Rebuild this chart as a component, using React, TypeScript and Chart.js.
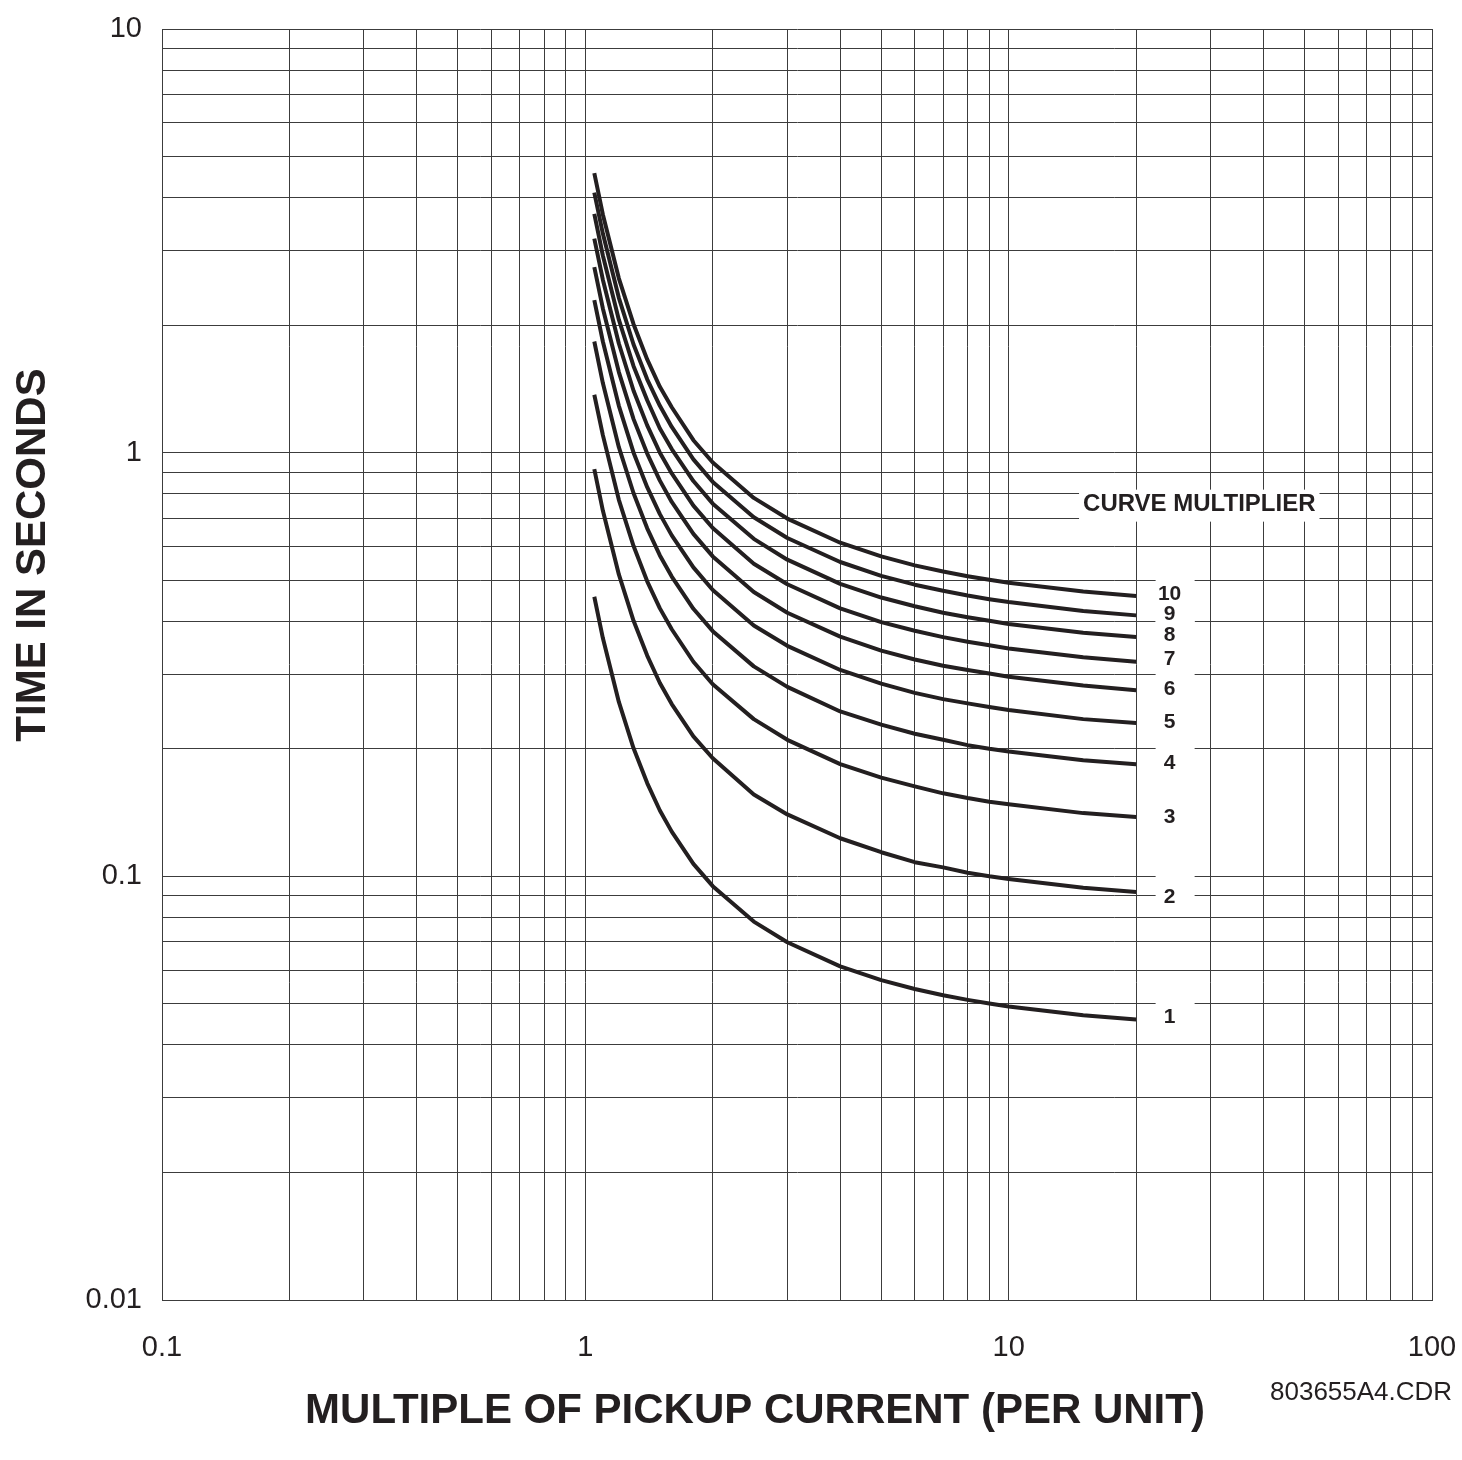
import React, { useEffect, useRef } from "react";
import { Chart, registerables } from "chart.js";

Chart.register(...registerables);

// Multiple of pickup current (per unit) at which each curve is sampled
const CURRENT_PU = [1.05, 1.1, 1.2, 1.3, 1.4, 1.5, 1.6, 1.8, 2, 2.5, 3, 4, 5, 6, 7, 8, 9, 10, 15, 20];

// Time in seconds for each curve multiplier
const CURVE_1 = [0.457, 0.365, 0.258, 0.2005, 0.166, 0.143, 0.1275, 0.107, 0.0948, 0.0782, 0.0699, 0.0613, 0.0569, 0.0542, 0.0524, 0.0511, 0.0501, 0.0493, 0.047, 0.0459];
const CURVE_2 = [0.914, 0.73, 0.516, 0.401, 0.332, 0.286, 0.255, 0.214, 0.19, 0.156, 0.14, 0.123, 0.114, 0.108, 0.105, 0.102, 0.1, 0.0986, 0.094, 0.0918];
const CURVE_3 = [1.37, 1.1, 0.774, 0.602, 0.497, 0.429, 0.383, 0.321, 0.284, 0.235, 0.21, 0.184, 0.171, 0.163, 0.157, 0.153, 0.15, 0.148, 0.141, 0.138];
const CURVE_4 = [1.83, 1.46, 1.03, 0.802, 0.663, 0.572, 0.51, 0.428, 0.379, 0.313, 0.28, 0.245, 0.228, 0.217, 0.21, 0.204, 0.2, 0.197, 0.188, 0.184];
const CURVE_5 = [2.29, 1.83, 1.29, 1.0, 0.829, 0.716, 0.638, 0.536, 0.474, 0.391, 0.35, 0.307, 0.285, 0.271, 0.262, 0.256, 0.251, 0.247, 0.235, 0.23];
const CURVE_6 = [2.74, 2.19, 1.55, 1.2, 0.995, 0.859, 0.765, 0.643, 0.569, 0.469, 0.419, 0.368, 0.341, 0.325, 0.314, 0.307, 0.301, 0.296, 0.282, 0.275];
const CURVE_7 = [3.2, 2.56, 1.81, 1.4, 1.16, 1.0, 0.893, 0.75, 0.664, 0.547, 0.489, 0.429, 0.398, 0.38, 0.367, 0.358, 0.351, 0.345, 0.329, 0.321];
const CURVE_8 = [3.66, 2.92, 2.06, 1.6, 1.33, 1.14, 1.02, 0.857, 0.758, 0.626, 0.559, 0.49, 0.455, 0.434, 0.419, 0.409, 0.401, 0.394, 0.376, 0.367];
const CURVE_9 = [4.11, 3.29, 2.32, 1.8, 1.49, 1.29, 1.15, 0.964, 0.853, 0.704, 0.629, 0.552, 0.512, 0.488, 0.472, 0.46, 0.451, 0.444, 0.423, 0.413];
const CURVE_10 = [4.57, 3.65, 2.58, 2.01, 1.66, 1.43, 1.28, 1.07, 0.948, 0.782, 0.699, 0.613, 0.569, 0.542, 0.524, 0.511, 0.501, 0.493, 0.47, 0.459];

const CURVES = [CURVE_1, CURVE_2, CURVE_3, CURVE_4, CURVE_5, CURVE_6, CURVE_7, CURVE_8, CURVE_9, CURVE_10];
const CURVE_NAMES = ["1", "2", "3", "4", "5", "6", "7", "8", "9", "10"];

// Curve label positions (time values) and their common current position
const LABEL_TIME = [0.0467, 0.0899, 0.139, 0.186, 0.232, 0.278, 0.327, 0.372, 0.418, 0.465];
const LABEL_CURRENT = 24;
const HEADER_TEXT = "CURVE MULTIPLIER";
const HEADER_CURRENT = 28.2;
const HEADER_TIME = 0.758;

// Grid / ticks
const X_GRID = [0.1, 0.2, 0.3, 0.4, 0.5, 0.6, 0.7, 0.8, 0.9, 1, 2, 3, 4, 5, 6, 7, 8, 9, 10, 20, 30, 40, 50, 60, 70, 80, 90, 100];
const Y_GRID = [0.01, 0.02, 0.03, 0.04, 0.05, 0.06, 0.07, 0.08, 0.09, 0.1, 0.2, 0.3, 0.4, 0.5, 0.6, 0.7, 0.8, 0.9, 1, 2, 3, 4, 5, 6, 7, 8, 9, 10];
const X_TICK_LABELS: Record<string, string> = { "0.1": "0.1", "1": "1", "10": "10", "100": "100" };
const Y_TICK_LABELS: Record<string, string> = { "0.01": "0.01", "0.1": "0.1", "1": "1", "10": "10" };

const X_TITLE = "MULTIPLE OF PICKUP CURRENT (PER UNIT)";
const Y_TITLE = "TIME IN SECONDS";
const DRAWING_ID = "803655A4.CDR";

const INK = "#231f20";
const FONT = '"Liberation Sans", Arial, Helvetica, sans-serif';

const textPlugin = {
  id: "textPlugin",
  afterDraw(chart: any) {
    const { ctx, scales } = chart;
    const x = scales.x;
    const y = scales.y;
    ctx.save();

    // header
    const hx = x.getPixelForValue(HEADER_CURRENT);
    const hy = y.getPixelForValue(HEADER_TIME);
    ctx.font = `bold 24px ${FONT}`;
    const hw = ctx.measureText(HEADER_TEXT).width;
    ctx.fillStyle = "#ffffff";
    ctx.fillRect(hx - hw / 2 - 4, hy - 14, hw + 8, 32);
    ctx.fillStyle = INK;
    ctx.textAlign = "center";
    ctx.textBaseline = "middle";
    ctx.fillText(HEADER_TEXT, hx, hy + 1);

    // curve labels: boxes first, then text
    const lx = x.getPixelForValue(LABEL_CURRENT);
    ctx.fillStyle = "#ffffff";
    LABEL_TIME.forEach((t) => {
      const ly = y.getPixelForValue(t);
      ctx.fillRect(lx - 14, ly - 21, 39, 33);
    });
    ctx.fillStyle = INK;
    ctx.font = `bold 21px ${FONT}`;
    LABEL_TIME.forEach((t, i) => {
      const ly = y.getPixelForValue(t);
      ctx.fillText(CURVE_NAMES[i], lx, ly + 1);
    });

    // axis titles
    ctx.font = `bold 42px ${FONT}`;
    ctx.fillText(X_TITLE, 755, 1411);
    ctx.save();
    ctx.translate(33, 555);
    ctx.rotate(-Math.PI / 2);
    ctx.fillText(Y_TITLE, 0, 0);
    ctx.restore();

    // drawing id
    ctx.font = `26px ${FONT}`;
    ctx.textAlign = "left";
    ctx.fillText(DRAWING_ID, 1270, 1393);

    ctx.restore();
  },
};

const isLabel = (map: Record<string, string>, v: number) => {
  const key = String(Number(v.toPrecision(6)));
  return map[key] ?? "";
};

const zeroPadding = (scale: any) => {
  scale.paddingTop = 0;
  scale.paddingBottom = 0;
  scale.paddingLeft = 0;
  scale.paddingRight = 0;
};

export default function App() {
  const canvasRef = useRef<HTMLCanvasElement | null>(null);

  useEffect(() => {
    document.body.style.margin = "0";
    const canvas = canvasRef.current;
    if (!canvas) return;

    const datasets = CURVES.map((vals, i) => ({
      label: CURVE_NAMES[i],
      data: CURRENT_PU.map((c, j) => ({ x: c, y: vals[j] })),
      borderColor: INK,
      borderWidth: 4,
      pointRadius: 0,
      tension: 0,
      fill: false,
      borderCapStyle: "butt" as const,
      borderJoinStyle: "round" as const,
    }));

    const chart = new Chart(canvas, {
      type: "line",
      data: { datasets },
      plugins: [textPlugin],
      options: {
        animation: false,
        responsive: false,
        maintainAspectRatio: false,
        layout: { padding: { top: 29, right: 30, left: 0, bottom: 0 } },
        plugins: {
          legend: { display: false },
          tooltip: { enabled: false },
          title: { display: false },
        },
        scales: {
          x: {
            type: "logarithmic",
            min: 0.1,
            max: 100,
            afterBuildTicks: (scale: any) => {
              scale.ticks = X_GRID.map((v) => ({ value: v }));
            },
            afterFit: (scale: any) => {
              scale.height = 160;
              zeroPadding(scale);
            },
            grid: { color: "#3c3c3c", lineWidth: 1, drawTicks: false },
            border: { display: true, color: "#3c3c3c", width: 1 },
            ticks: {
              autoSkip: false,
              maxRotation: 0,
              minRotation: 0,
              padding: 31,
              color: INK,
              font: { family: FONT, size: 29 },
              callback: (v: any) => isLabel(X_TICK_LABELS, Number(v)),
            },
          },
          y: {
            type: "logarithmic",
            min: 0.01,
            max: 10,
            afterBuildTicks: (scale: any) => {
              scale.ticks = Y_GRID.map((v) => ({ value: v }));
            },
            afterFit: (scale: any) => {
              scale.width = 162;
              zeroPadding(scale);
            },
            grid: { color: "#3c3c3c", lineWidth: 1, drawTicks: false },
            border: { display: true, color: "#3c3c3c", width: 1 },
            ticks: {
              autoSkip: false,
              padding: 20,
              color: INK,
              font: { family: FONT, size: 29 },
              callback: (v: any) => isLabel(Y_TICK_LABELS, Number(v)),
            },
          },
        },
      },
    });

    return () => chart.destroy();
  }, []);

  return (
    <div style={{ width: 1462, height: 1460, background: "#ffffff" }}>
      <canvas ref={canvasRef} width={1462} height={1460} style={{ display: "block" }} />
    </div>
  );
}
